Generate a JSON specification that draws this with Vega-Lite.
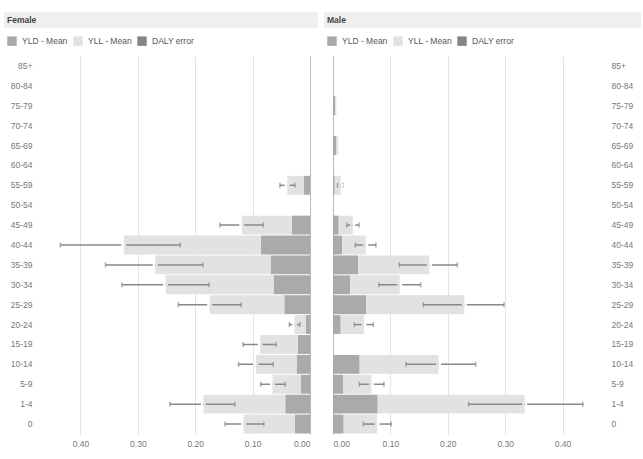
{
  "$schema": "https://vega.github.io/schema/vega-lite/v6.json",
  "padding": {"left": 4, "top": 12, "right": 0, "bottom": 0},
  "config": {
    "font": "Liberation Sans",
    "view": {"stroke": null},
    "axis": {"labelFont": "Liberation Sans", "labelFontSize": 8.5, "labelColor": "#777777", "domain": false, "ticks": false, "tickSize": 0, "title": null},
    "legend": {"labelFont": "Liberation Sans", "labelFontSize": 8.5, "labelColor": "#555555"}
  },
  "datasets": {
    "female": [
      {"age": "85+", "yld": 0, "daly": 0, "lo": null, "hi": null},
      {"age": "80-84", "yld": 0, "daly": 0, "lo": null, "hi": null},
      {"age": "75-79", "yld": 0, "daly": 0, "lo": null, "hi": null},
      {"age": "70-74", "yld": 0, "daly": 0, "lo": null, "hi": null},
      {"age": "65-69", "yld": 0, "daly": 0, "lo": null, "hi": null},
      {"age": "60-64", "yld": 0, "daly": 0, "lo": null, "hi": null},
      {"age": "55-59", "yld": 0.0105, "daly": 0.0396, "lo": 0.0262, "hi": 0.0524},
      {"age": "50-54", "yld": 0, "daly": 0, "lo": null, "hi": null},
      {"age": "45-49", "yld": 0.0314, "daly": 0.1188, "lo": 0.0815, "hi": 0.157},
      {"age": "40-44", "yld": 0.0856, "daly": 0.3243, "lo": 0.2259, "hi": 0.435},
      {"age": "35-39", "yld": 0.0687, "daly": 0.2696, "lo": 0.1863, "hi": 0.3563},
      {"age": "30-34", "yld": 0.0635, "daly": 0.2515, "lo": 0.1758, "hi": 0.3278},
      {"age": "25-29", "yld": 0.0448, "daly": 0.1747, "lo": 0.12, "hi": 0.2294},
      {"age": "20-24", "yld": 0.007, "daly": 0.0268, "lo": 0.0175, "hi": 0.036},
      {"age": "15-19", "yld": 0.0215, "daly": 0.0867, "lo": 0.0588, "hi": 0.1165},
      {"age": "10-14", "yld": 0.0233, "daly": 0.0943, "lo": 0.064, "hi": 0.1246},
      {"age": "5-9", "yld": 0.0157, "daly": 0.0652, "lo": 0.043, "hi": 0.086},
      {"age": "1-4", "yld": 0.0431, "daly": 0.1857, "lo": 0.131, "hi": 0.244},
      {"age": "0", "yld": 0.0262, "daly": 0.1159, "lo": 0.0804, "hi": 0.148}
    ],
    "male": [
      {"age": "85+", "yld": 0, "daly": 0, "lo": null, "hi": null},
      {"age": "80-84", "yld": 0, "daly": 0, "lo": null, "hi": null},
      {"age": "75-79", "yld": 0.004, "daly": 0.006, "lo": null, "hi": null},
      {"age": "70-74", "yld": 0, "daly": 0, "lo": null, "hi": null},
      {"age": "65-69", "yld": 0.006, "daly": 0.009, "lo": null, "hi": null},
      {"age": "60-64", "yld": 0, "daly": 0, "lo": null, "hi": null},
      {"age": "55-59", "yld": 0.003, "daly": 0.0134, "lo": 0.008, "hi": 0.017},
      {"age": "50-54", "yld": 0, "daly": 0, "lo": null, "hi": null},
      {"age": "45-49", "yld": 0.0099, "daly": 0.0343, "lo": 0.0238, "hi": 0.0453},
      {"age": "40-44", "yld": 0.0157, "daly": 0.057, "lo": 0.0389, "hi": 0.0749},
      {"age": "35-39", "yld": 0.0436, "daly": 0.1678, "lo": 0.1155, "hi": 0.2166},
      {"age": "30-34", "yld": 0.0296, "daly": 0.1162, "lo": 0.0801, "hi": 0.1527},
      {"age": "25-29", "yld": 0.058, "daly": 0.2288, "lo": 0.1573, "hi": 0.298},
      {"age": "20-24", "yld": 0.0134, "daly": 0.054, "lo": 0.0371, "hi": 0.0703},
      {"age": "15-19", "yld": 0, "daly": 0, "lo": null, "hi": null},
      {"age": "10-14", "yld": 0.0464, "daly": 0.184, "lo": 0.1272, "hi": 0.2486},
      {"age": "5-9", "yld": 0.0174, "daly": 0.0668, "lo": 0.0459, "hi": 0.0888},
      {"age": "1-4", "yld": 0.0778, "daly": 0.334, "lo": 0.2364, "hi": 0.4355},
      {"age": "0", "yld": 0.0186, "daly": 0.0767, "lo": 0.0528, "hi": 0.1016}
    ]
  },
  "resolve": {"scale": {"color": "independent"}, "legend": {"color": "independent"}},
  "spacing": 8,
  "vconcat": [
    {
      "spacing": 6,
      "hconcat": [
        {
          "width": 314, "height": 16,
          "view": {"fill": "#efefef", "stroke": null},
          "data": {"values": [{"label": "Female"}]},
          "mark": {"type": "text", "align": "left", "baseline": "middle", "dx": 3, "fontSize": 8.5, "fontWeight": "bold", "color": "#444444"},
          "encoding": {
            "text": {"field": "label"},
            "x": {"datum": 0, "type": "quantitative", "scale": {"domain": [0, 1]}, "axis": null}
          }
        },
        {
          "width": 317, "height": 16,
          "view": {"fill": "#efefef", "stroke": null},
          "data": {"values": [{"label": "Male"}]},
          "mark": {"type": "text", "align": "left", "baseline": "middle", "dx": 3, "fontSize": 8.5, "fontWeight": "bold", "color": "#444444"},
          "encoding": {
            "text": {"field": "label"},
            "x": {"datum": 0, "type": "quantitative", "scale": {"domain": [0, 1]}, "axis": null}
          }
        }
      ]
    },
    {
      "spacing": 23,
      "bounds": "flush",
      "resolve": {"scale": {"color": "independent"}, "legend": {"color": "independent"}},
      "hconcat": [
        {
          "width": 306, "height": 378,
          "data": {"name": "female"},
          "layer": [
            {
              "mark": {"type": "bar"},
              "encoding": {
                "y": {"field": "age", "type": "nominal", "scale": {"domain": ["85+", "80-84", "75-79", "70-74", "65-69", "60-64", "55-59", "50-54", "45-49", "40-44", "35-39", "30-34", "25-29", "20-24", "15-19", "10-14", "5-9", "1-4", "0"], "paddingInner": 0.05, "paddingOuter": 0.025}, "axis": {"orient": "left", "labelPadding": -28, "labelAlign": "right"}},
                "x": {"field": "yld", "type": "quantitative", "scale": {"domain": [0, 0.5332], "reverse": true, "nice": false, "zero": true}, "axis": {"values": [0, 0.1, 0.2, 0.3, 0.4], "format": ".2f", "grid": true, "gridColor": {"condition": {"test": "datum.value === 0", "value": "#b8b8b8"}, "value": "#e4e4e4"}, "labelPadding": 5}},
                "color": {"datum": "YLD - Mean", "type": "nominal", "scale": {"domain": ["YLD - Mean", "YLL - Mean", "DALY error"], "range": ["#aaaaaa", "#e2e2e2", "#858585"]}, "legend": {"orient": "none", "legendX": 3, "legendY": -20, "direction": "horizontal", "title": null, "symbolType": "square", "symbolSize": 90, "symbolStrokeWidth": 0, "labelOffset": 5, "columnPadding": 5}}
              }
            },
            {
              "mark": {"type": "bar"},
              "encoding": {
                "y": {"field": "age", "type": "nominal"},
                "x": {"field": "yld", "type": "quantitative"},
                "x2": {"field": "daly"},
                "color": {"datum": "YLL - Mean", "type": "nominal"}
              }
            },
            {
              "transform": [{"filter": "datum.lo != null"}],
              "layer": [
                {
                  "mark": {"type": "rule", "color": "#888888", "strokeWidth": 1.5},
                  "encoding": {
                    "y": {"field": "age", "type": "nominal"},
                    "x": {"field": "lo", "type": "quantitative"},
                    "x2": {"field": "hi"}
                  }
                },
                {
                  "mark": {"type": "tick", "color": "#888888", "size": 5, "thickness": 1.5},
                  "encoding": {
                    "y": {"field": "age", "type": "nominal"},
                    "x": {"field": "lo", "type": "quantitative"}
                  }
                },
                {
                  "mark": {"type": "tick", "color": "#888888", "size": 5, "thickness": 1.5},
                  "encoding": {
                    "y": {"field": "age", "type": "nominal"},
                    "x": {"field": "hi", "type": "quantitative"}
                  }
                },
                {
                  "mark": {"type": "point", "shape": "M-1,-0.6L0,-0.6L0,0.6L-1,0.6Z", "filled": true, "size": 25, "color": "#ffffff", "opacity": 1, "strokeWidth": 0},
                  "encoding": {
                    "y": {"field": "age", "type": "nominal"},
                    "x": {"field": "daly", "type": "quantitative"}
                  }
                },
                {
                  "mark": {"type": "point", "shape": "M0,-0.6L1,-0.6L1,0.6L0,0.6Z", "filled": true, "size": 25, "color": "#e2e2e2", "opacity": 1, "strokeWidth": 0},
                  "encoding": {
                    "y": {"field": "age", "type": "nominal"},
                    "x": {"field": "daly", "type": "quantitative"}
                  }
                }
              ]
            }
          ]
        },
        {
          "width": 268, "height": 378,
          "data": {"name": "male"},
          "layer": [
            {
              "mark": {"type": "bar"},
              "encoding": {
                "y": {"field": "age", "type": "nominal", "scale": {"domain": ["85+", "80-84", "75-79", "70-74", "65-69", "60-64", "55-59", "50-54", "45-49", "40-44", "35-39", "30-34", "25-29", "20-24", "15-19", "10-14", "5-9", "1-4", "0"], "paddingInner": 0.05, "paddingOuter": 0.025}, "axis": {"orient": "right", "labelPadding": 10, "labelAlign": "left"}},
                "x": {"field": "yld", "type": "quantitative", "scale": {"domain": [0, 0.467], "nice": false, "zero": true}, "axis": {"values": [0, 0.1, 0.2, 0.3, 0.4], "format": ".2f", "grid": true, "gridColor": {"condition": {"test": "datum.value === 0", "value": "#b8b8b8"}, "value": "#e4e4e4"}, "labelPadding": 5}},
                "color": {"datum": "YLD - Mean", "type": "nominal", "scale": {"domain": ["YLD - Mean", "YLL - Mean", "DALY error"], "range": ["#aaaaaa", "#e2e2e2", "#858585"]}, "legend": {"orient": "none", "legendX": -6, "legendY": -20, "direction": "horizontal", "title": null, "symbolType": "square", "symbolSize": 90, "symbolStrokeWidth": 0, "labelOffset": 5, "columnPadding": 5}}
              }
            },
            {
              "mark": {"type": "bar"},
              "encoding": {
                "y": {"field": "age", "type": "nominal"},
                "x": {"field": "yld", "type": "quantitative"},
                "x2": {"field": "daly"},
                "color": {"datum": "YLL - Mean", "type": "nominal"}
              }
            },
            {
              "transform": [{"filter": "datum.lo != null"}],
              "layer": [
                {
                  "mark": {"type": "rule", "color": "#888888", "strokeWidth": 1.5},
                  "encoding": {
                    "y": {"field": "age", "type": "nominal"},
                    "x": {"field": "lo", "type": "quantitative"},
                    "x2": {"field": "hi"}
                  }
                },
                {
                  "mark": {"type": "tick", "color": "#888888", "size": 5, "thickness": 1.5},
                  "encoding": {
                    "y": {"field": "age", "type": "nominal"},
                    "x": {"field": "lo", "type": "quantitative"}
                  }
                },
                {
                  "mark": {"type": "tick", "color": "#888888", "size": 5, "thickness": 1.5},
                  "encoding": {
                    "y": {"field": "age", "type": "nominal"},
                    "x": {"field": "hi", "type": "quantitative"}
                  }
                },
                {
                  "mark": {"type": "point", "shape": "M0,-0.6L1,-0.6L1,0.6L0,0.6Z", "filled": true, "size": 25, "color": "#ffffff", "opacity": 1, "strokeWidth": 0},
                  "encoding": {
                    "y": {"field": "age", "type": "nominal"},
                    "x": {"field": "daly", "type": "quantitative"}
                  }
                },
                {
                  "mark": {"type": "point", "shape": "M-1,-0.6L0,-0.6L0,0.6L-1,0.6Z", "filled": true, "size": 25, "color": "#e2e2e2", "opacity": 1, "strokeWidth": 0},
                  "encoding": {
                    "y": {"field": "age", "type": "nominal"},
                    "x": {"field": "daly", "type": "quantitative"}
                  }
                }
              ]
            }
          ]
        }
      ]
    }
  ]
}
